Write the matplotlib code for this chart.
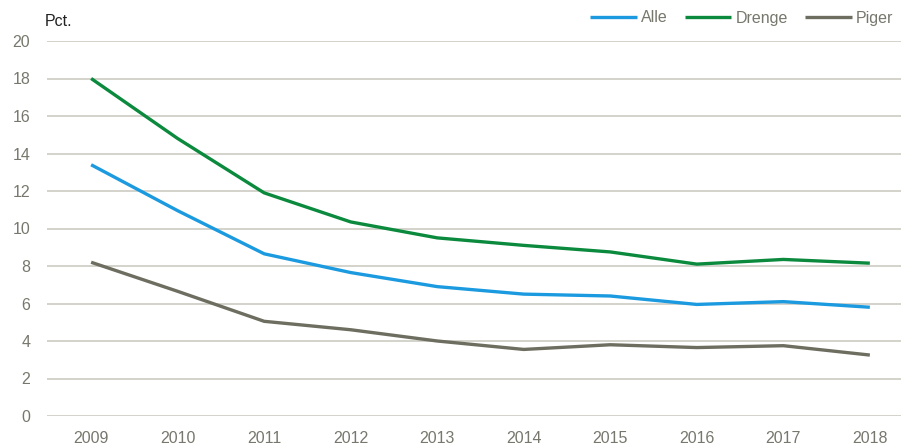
import matplotlib.pyplot as plt

years = [2009, 2010, 2011, 2012, 2013, 2014, 2015, 2016, 2017, 2018]
alle = [13.4, 10.95, 8.65, 7.65, 6.9, 6.5, 6.4, 5.95, 6.1, 5.8]
drenge = [18.0, 14.8, 11.9, 10.35, 9.5, 9.1, 8.75, 8.1, 8.35, 8.15]
piger = [8.2, 6.65, 5.05, 4.6, 4.0, 3.55, 3.8, 3.65, 3.75, 3.25]

plt.rcParams['font.family'] = ['Liberation Sans', 'DejaVu Sans']
txt_col = '#77776d'

fig = plt.figure(figsize=(9.01, 4.47), dpi=100)
ax = fig.add_axes([47/901, 1-416/447, 1-47/901, (416-41)/447])

ax.plot(years, alle, color='#1b9ae0', lw=2.4, label='Alle', solid_capstyle='butt')
ax.plot(years, drenge, color='#0b8a3e', lw=2.4, label='Drenge', solid_capstyle='butt')
ax.plot(years, piger, color='#6d6d60', lw=2.4, label='Piger', solid_capstyle='butt')

ax.set_ylim(0, 20)
ax.set_yticks(range(0, 21, 2))
ax.set_xlim(2008.49, 2018.36)
ax.set_xticks(years)
ax.grid(axis='y', color='#d3d2cb', lw=1.4)
ax.set_axisbelow(True)
for s in ax.spines.values():
    s.set_visible(False)
ax.tick_params(length=0, labelsize=11.5, colors=txt_col)
ax.tick_params(axis='y', pad=12)
ax.tick_params(axis='x', pad=11)

fig.text(45/901, 1-22/447, 'Pct.', fontsize=11.5, color='#222222', va='center')

leg = fig.legend(loc='center right', bbox_to_anchor=(1.0, 1-18/447), ncol=3, frameon=False,
                 fontsize=11.5, handlelength=2.9, handletextpad=0.25, columnspacing=1.1,
                 borderaxespad=0.1)
for t in leg.get_texts():
    t.set_color(txt_col)

fig.savefig('out.png', dpi=100)
